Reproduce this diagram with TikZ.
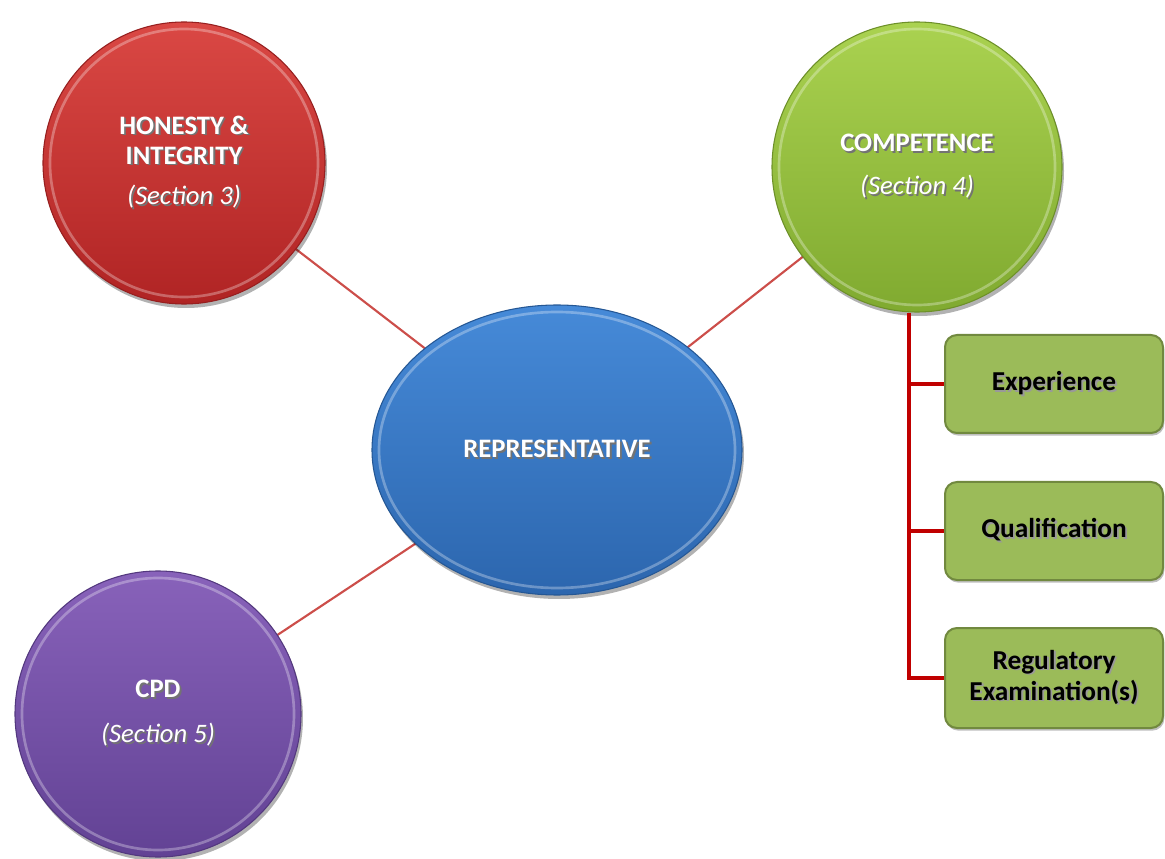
\documentclass[tikz,border=0pt]{standalone}
\usepackage{fontspec}
\setmainfont{Carlito}
\usetikzlibrary{shadows,backgrounds,calc,shapes.geometric}
\definecolor{redA}{RGB}{218,72,68}
\definecolor{redB}{RGB}{176,36,36}
\definecolor{grnA}{RGB}{170,210,80}
\definecolor{grnB}{RGB}{128,170,48}
\definecolor{bluA}{RGB}{70,138,216}
\definecolor{bluB}{RGB}{44,102,174}
\definecolor{purA}{RGB}{136,98,186}
\definecolor{purB}{RGB}{98,66,148}
\definecolor{boxfill}{RGB}{155,187,89}
\definecolor{boxline}{RGB}{113,137,63}
\definecolor{spokecol}{RGB}{204,78,74}
\definecolor{treecol}{RGB}{192,0,0}
\newcommand\shw[2][black!55]{\leavevmode\makebox[0pt][l]{\kern1.4pt\raisebox{-1.4pt}{\textcolor{#1}{#2}}}#2}
\tikzset{
  ball/.style={circle, inner sep=0pt, minimum size=#1, text=white, align=center,
    font=\fontsize{20}{22.5}\selectfont\bfseries,
    drop shadow={shadow xshift=1.5pt, shadow yshift=-3pt, opacity=0.3, fill=black}},
  ring/.style={draw=white, opacity=0.3, line width=2pt},
  leaf/.style={rounded corners=9pt, fill=boxfill, draw=boxline, line width=1.5pt,
    minimum width=163.5pt, minimum height=#1, inner sep=0pt, align=center,
    font=\fontsize{20.5}{23.3}\selectfont\bfseries, text=black,
    drop shadow={shadow xshift=1pt, shadow yshift=-2pt, opacity=0.25, fill=black}},
  spoke/.style={draw=spokecol, line width=1.6pt},
  tree/.style={draw=treecol, line width=2.4pt}
}
\begin{document}
\begin{tikzpicture}[x=0.75pt,y=-0.75pt]
\useasboundingbox (0,0) rectangle (1165,859);
% central ellipse
\node[ellipse, inner sep=0pt, minimum width=277.5pt, minimum height=217.5pt,
  top color=bluA, bottom color=bluB, draw=bluB!85!black, line width=0.8pt,
  text=white, font=\fontsize{20}{22.5}\selectfont\bfseries,
  drop shadow={shadow xshift=1.5pt, shadow yshift=-3pt, opacity=0.3, fill=black}]
  (rep) at (557,450) {\shw{REPRESENTATIVE}};
\draw[ring] (rep.center) ellipse[x radius=178, y radius=138];
% circles
\node[ball=211.5pt, top color=redA, bottom color=redB, draw=redB!85!black, line width=0.8pt]
  (hon) at (184,163) {\shw{HONESTY \&}\\\shw{INTEGRITY}\\[8pt]{\mdseries\itshape\shw{(Section 3)}}};
\draw[ring] (hon.center) circle[radius=134];
\node[ball=217.5pt, top color=grnA, bottom color=grnB, draw=grnB!85!black, line width=0.8pt]
  (comp) at (917,167) {\shw{COMPETENCE}\\[10pt]{\mdseries\itshape\shw{(Section 4)}}};
\draw[ring] (comp.center) circle[radius=138];
\node[ball=214.5pt, top color=purA, bottom color=purB, draw=purB!85!black, line width=0.8pt]
  (cpd) at (158,714) {\shw{CPD}\\[11pt]{\mdseries\itshape\shw{(Section 5)}}};
\draw[ring] (cpd.center) circle[radius=136];
% leaf boxes
\node[leaf=73.5pt] (exp) at (1054,384) {\shw[black!40]{Experience}};
\node[leaf=73.5pt] (qual) at (1054,531) {\shw[black!40]{Qualification}};
\node[leaf=75pt] (reg) at (1054,678) {\shw[black!40]{Regulatory}\\\shw[black!40]{Examination(s)}};
\coordinate (trunk) at ($(comp.south)+(-8,0)$);
\begin{scope}[on background layer]
  \draw[spoke] (hon.center) -- (rep.center);
  \draw[spoke] (comp.center) -- (rep.center);
  \draw[spoke] (cpd.center) -- (rep.center);
\end{scope}
\draw[tree] (trunk) |- (reg.west);
\draw[tree] (trunk |- exp.west) -- (exp.west);
\draw[tree] (trunk |- qual.west) -- (qual.west);
\end{tikzpicture}
\end{document}
